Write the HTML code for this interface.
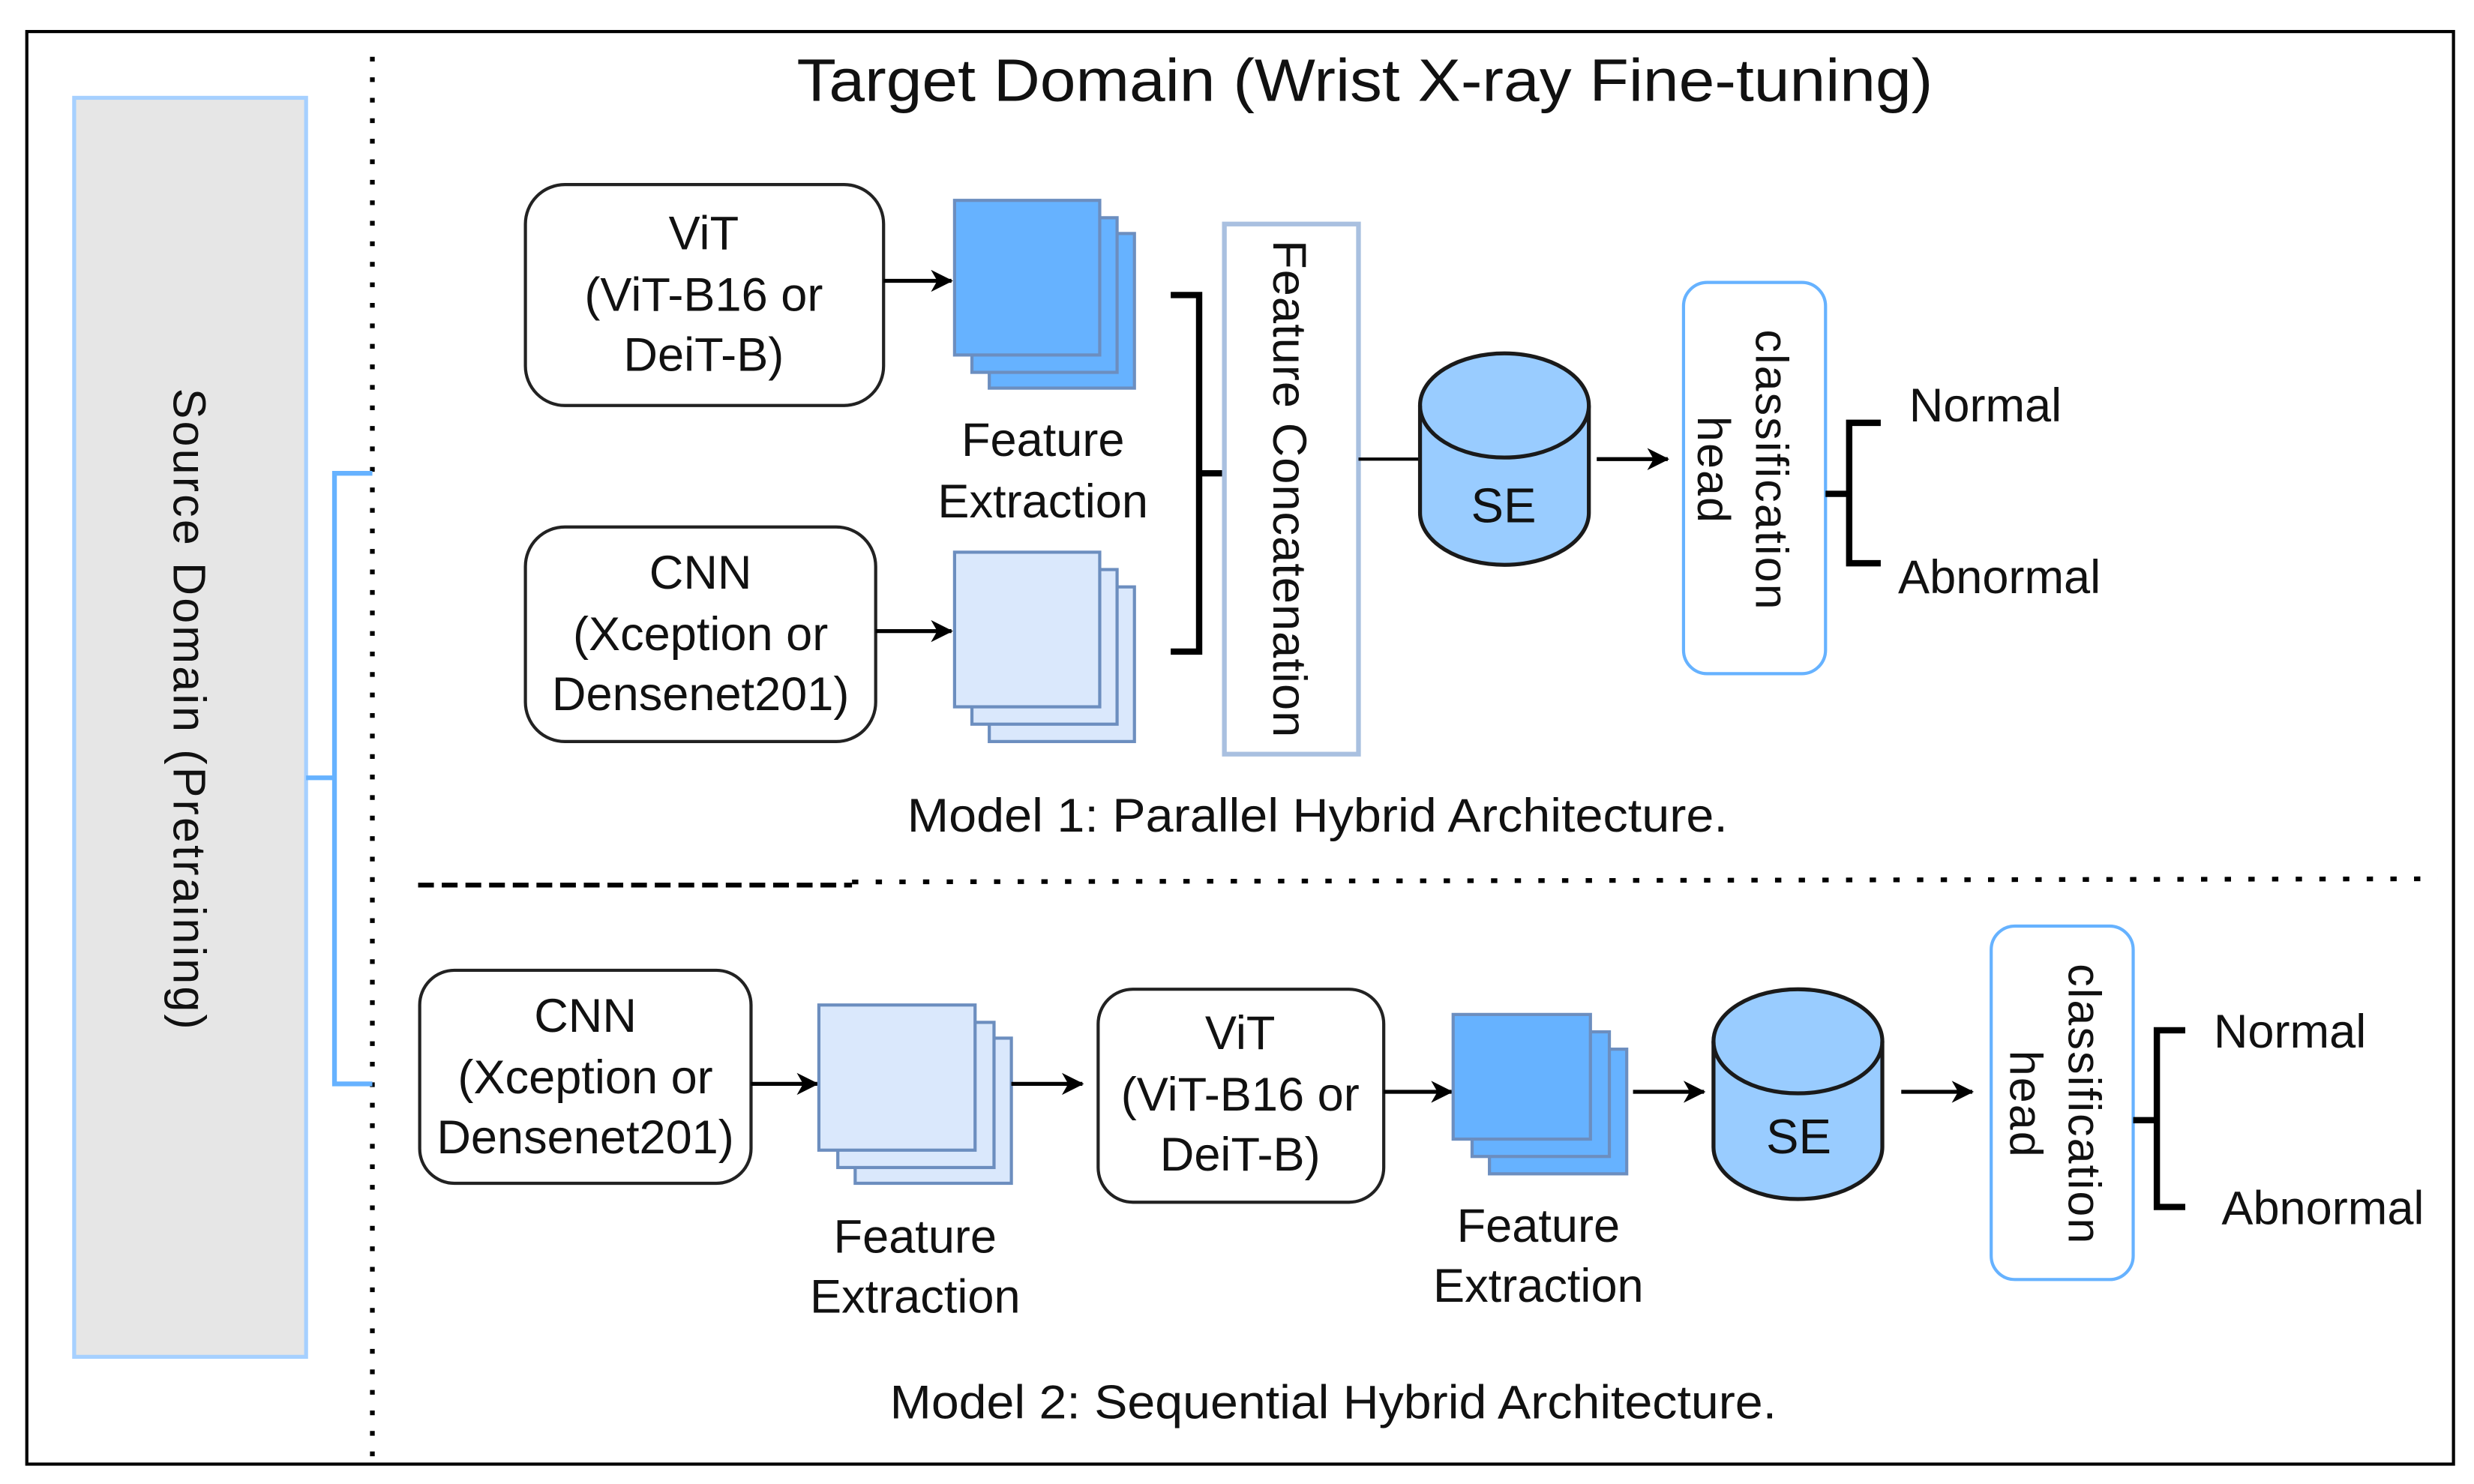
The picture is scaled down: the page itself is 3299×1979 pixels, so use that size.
<!DOCTYPE html>
<html><head><meta charset="utf-8"><style>
html,body{margin:0;padding:0;background:#fff;}
svg{display:block;}
text{font-family:"Liberation Sans",Arial,sans-serif;fill:#111;}
</style></head><body>
<svg width="3299" height="1979" viewBox="0 0 1568 940.6" preserveAspectRatio="none" xmlns="http://www.w3.org/2000/svg">
<defs>
<marker id="ar" markerWidth="14" markerHeight="14" refX="13" refY="7" orient="auto" markerUnits="userSpaceOnUse">
<path d="M0,0 L14,7 L0,14 L4,7 Z" fill="#000"/>
</marker>
</defs>
<rect x="0" y="0" width="1568" height="941" fill="#fff"/>
<rect x="17" y="20" width="1538" height="908" fill="none" stroke="#000" stroke-width="2"/>
<rect x="47" y="62" width="147" height="798" fill="#e6e6e6" stroke="#a6d0ff" stroke-width="2.5"/>
<text transform="translate(110,450) rotate(90)" text-anchor="middle" font-size="29" letter-spacing="1.5">Source Domain (Pretraining)</text>
<line x1="236" y1="36" x2="236" y2="926" stroke="#000" stroke-width="3" stroke-dasharray="3,10"/>
<path d="M194,493 H212 M236,300 H212 V687 H236" fill="none" stroke="#66b2ff" stroke-width="3"/>
<text x="865" y="64" text-anchor="middle" font-size="38" textLength="720" lengthAdjust="spacingAndGlyphs">Target Domain (Wrist X-ray Fine-tuning)</text>

<g font-size="30" text-anchor="middle">
<rect x="333" y="117" width="227" height="140" rx="25" fill="#fff" stroke="#222" stroke-width="2"/>
<text x="446" y="158">ViT</text>
<text x="446" y="197">(ViT-B16 or</text>
<text x="446" y="235">DeiT-B)</text>
</g>
<line x1="560" y1="178" x2="603" y2="178" stroke="#000" stroke-width="2.5" marker-end="url(#ar)"/>
<g fill="#66b2ff" stroke="#6c8ebf" stroke-width="2">
<rect x="627" y="148" width="92" height="98"/>
<rect x="616" y="138" width="92" height="98"/>
<rect x="605" y="127" width="92" height="98"/>
</g>
<g font-size="30" text-anchor="middle">
<text x="661" y="289">Feature</text>
<text x="661" y="328">Extraction</text>
</g>
<rect x="333" y="334" width="222" height="136" rx="25" fill="#fff" stroke="#222" stroke-width="2"/>
<g font-size="30" text-anchor="middle">
<text x="444" y="373">CNN</text>
<text x="444" y="412">(Xception or</text>
<text x="444" y="450">Densenet201)</text>
</g>
<line x1="555" y1="400" x2="603" y2="400" stroke="#000" stroke-width="2.5" marker-end="url(#ar)"/>
<g fill="#dae8fc" stroke="#6c8ebf" stroke-width="2">
<rect x="627" y="372" width="92" height="98"/>
<rect x="616" y="361" width="92" height="98"/>
<rect x="605" y="350" width="92" height="98"/>
</g>
<path d="M742,187 H760 V413 H742 M760,300 H776" fill="none" stroke="#000" stroke-width="4"/>
<rect x="776" y="142" width="85" height="336" fill="#fff" stroke="#a9c0e0" stroke-width="3"/>
<text transform="translate(807,310) rotate(90)" text-anchor="middle" font-size="30" letter-spacing="0.5">Feature Concatenation</text>
<line x1="861" y1="291" x2="900" y2="291" stroke="#000" stroke-width="2"/>
<path d="M900,257 V325 A53.5,33 0 0 0 1007,325 V257 A53.5,33 0 0 0 900,257 Z" fill="#99ccff" stroke="#1a1a1a" stroke-width="2.5"/>
<path d="M900,257 A53.5,33 0 0 0 1007,257" fill="none" stroke="#1a1a1a" stroke-width="2.5"/>
<text x="953" y="331" text-anchor="middle" font-size="31">SE</text>
<line x1="1012" y1="291" x2="1057" y2="291" stroke="#000" stroke-width="2.5" marker-end="url(#ar)"/>
<rect x="1067" y="179" width="90" height="248" rx="15" fill="#fff" stroke="#66b2ff" stroke-width="2"/>
<g font-size="29" text-anchor="middle" letter-spacing="1">
<text transform="translate(1113,298) rotate(90)">classification</text>
<text transform="translate(1076,298) rotate(90)">head</text>
</g>
<path d="M1157,313 H1172 M1192,268 H1172 V357 H1192" fill="none" stroke="#000" stroke-width="4"/>
<g font-size="30">
<text x="1210" y="267">Normal</text>
<text x="1203" y="376">Abnormal</text>
</g>
<text x="835" y="527" text-anchor="middle" font-size="30" textLength="520" lengthAdjust="spacingAndGlyphs">Model 1: Parallel Hybrid Architecture.</text>

<line x1="265" y1="561" x2="540" y2="561" stroke="#000" stroke-width="3" stroke-dasharray="10,5"/>
<line x1="540" y1="559" x2="1545" y2="557" stroke="#000" stroke-width="3" stroke-dasharray="4,11"/>

<rect x="266" y="615" width="210" height="135" rx="22" fill="#fff" stroke="#222" stroke-width="2"/>
<g font-size="30" text-anchor="middle">
<text x="371" y="654">CNN</text>
<text x="371" y="693">(Xception or</text>
<text x="371" y="731">Densenet201)</text>
</g>
<line x1="476" y1="687" x2="518" y2="687" stroke="#000" stroke-width="2.5" marker-end="url(#ar)"/>
<g fill="#dae8fc" stroke="#6c8ebf" stroke-width="2">
<rect x="542" y="658" width="99" height="92"/>
<rect x="531" y="648" width="99" height="92"/>
<rect x="519" y="637" width="99" height="92"/>
</g>
<g font-size="30" text-anchor="middle">
<text x="580" y="794">Feature</text>
<text x="580" y="832">Extraction</text>
</g>
<line x1="641" y1="687" x2="686" y2="687" stroke="#000" stroke-width="2.5" marker-end="url(#ar)"/>
<rect x="696" y="627" width="181" height="135" rx="22" fill="#fff" stroke="#222" stroke-width="2"/>
<g font-size="30" text-anchor="middle">
<text x="786" y="665">ViT</text>
<text x="786" y="704">(ViT-B16 or</text>
<text x="786" y="742">DeiT-B)</text>
</g>
<line x1="877" y1="692" x2="920" y2="692" stroke="#000" stroke-width="2.5" marker-end="url(#ar)"/>
<g fill="#66b2ff" stroke="#6c8ebf" stroke-width="2">
<rect x="944" y="665" width="87" height="79"/>
<rect x="933" y="654" width="87" height="79"/>
<rect x="921" y="643" width="87" height="79"/>
</g>
<g font-size="30" text-anchor="middle">
<text x="975" y="787">Feature</text>
<text x="975" y="825">Extraction</text>
</g>
<line x1="1035" y1="692" x2="1080" y2="692" stroke="#000" stroke-width="2.5" marker-end="url(#ar)"/>
<path d="M1086,660 V727 A53.5,33 0 0 0 1193,727 V660 A53.5,33 0 0 0 1086,660 Z" fill="#99ccff" stroke="#1a1a1a" stroke-width="2.5"/>
<path d="M1086,660 A53.5,33 0 0 0 1193,660" fill="none" stroke="#1a1a1a" stroke-width="2.5"/>
<text x="1140" y="731" text-anchor="middle" font-size="31">SE</text>
<line x1="1205" y1="692" x2="1250" y2="692" stroke="#000" stroke-width="2.5" marker-end="url(#ar)"/>
<rect x="1262" y="587" width="90" height="224" rx="15" fill="#fff" stroke="#66b2ff" stroke-width="2"/>
<g font-size="29" text-anchor="middle" letter-spacing="1">
<text transform="translate(1311,700) rotate(90)">classification</text>
<text transform="translate(1274,700) rotate(90)">head</text>
</g>
<path d="M1352,710 H1367 M1385,653 H1367 V765 H1385" fill="none" stroke="#000" stroke-width="4"/>
<g font-size="30">
<text x="1403" y="664">Normal</text>
<text x="1408" y="776">Abnormal</text>
</g>
<text x="845" y="899" text-anchor="middle" font-size="30" textLength="562" lengthAdjust="spacingAndGlyphs">Model 2: Sequential Hybrid Architecture.</text>
</svg>
</body></html>
